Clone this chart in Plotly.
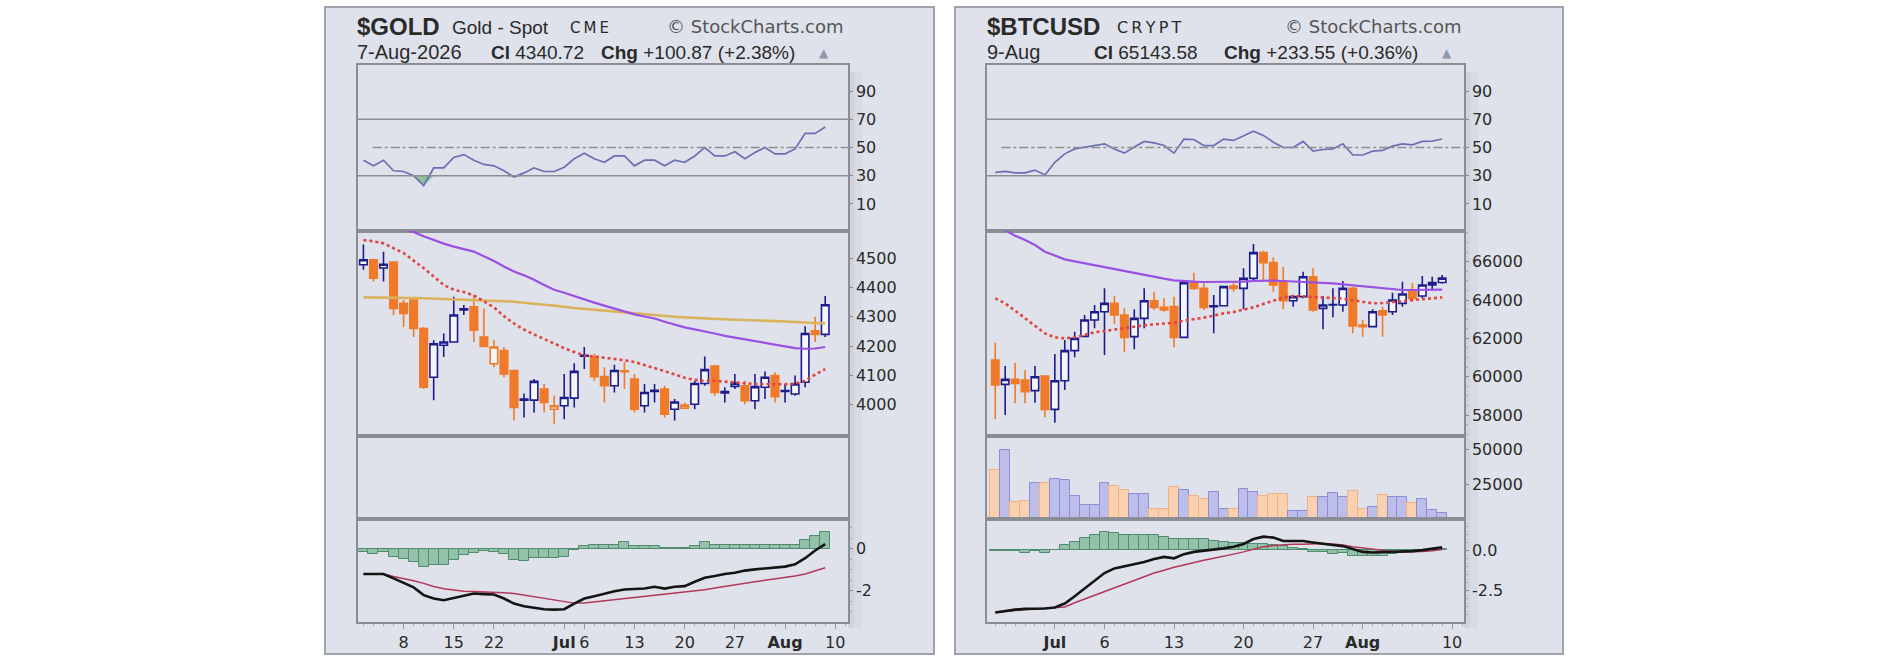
import pandas as pd
import plotly.graph_objects as go

W, H = 1886, 662


def px(x):
    return x / W


def py(y):
    return 1 - y / H


# ---------------- fechas / etiquetas ----------------
gold_holidays = ["2026-06-19", "2026-07-03"]
gold_days = [d for d in pd.bdate_range("2026-06-02", "2026-08-10")
             if d.strftime("%Y-%m-%d") not in gold_holidays]
btc_days = list(pd.date_range("2026-06-25", "2026-08-10"))

gold_tick_dates = ["2026-06-08", "2026-06-15", "2026-06-22", "2026-07-01", "2026-07-06",
                   "2026-07-13", "2026-07-20", "2026-07-27", "2026-08-03", "2026-08-10"]
gold_tick_text = ["8", "15", "22", "<b>Jul</b>", "6", "13", "20", "27", "<b>Aug</b>", "10"]
btc_tick_dates = ["2026-07-01", "2026-07-06", "2026-07-13", "2026-07-20",
                  "2026-07-27", "2026-08-01", "2026-08-10"]
btc_tick_text = ["<b>Jul</b>", "6", "13", "20", "27", "<b>Aug</b>", "10"]

# ---------------- $GOLD ----------------
gold_open = [4477, 4494, 4466, 4486, 4346, 4357, 4260, 4094, 4203, 4214,
             4323, 4334, 4231, 4140, 4185, 4117, 4016, 4016, 4054, 3985,
             3997, 4023, 4166, 4163, 4096, 4065, 4116, 4088, 3997, 4046,
             4054, 3985, 3989, 4002, 4073, 4132, 4041, 4063, 4065, 4014,
             4060, 4100, 4046, 4037, 4077, 4252, 4240]
gold_high = [4546, 4497, 4521, 4489, 4357, 4359, 4265, 4220, 4243, 4368,
             4340, 4374, 4328, 4220, 4197, 4117, 4039, 4088, 4071, 4031,
             4105, 4142, 4197, 4174, 4128, 4137, 4145, 4105, 4071, 4071,
             4065, 4020, 4008, 4082, 4165, 4137, 4060, 4105, 4082, 4105,
             4114, 4111, 4071, 4100, 4268, 4300, 4371]
gold_low = [4460, 4420, 4420, 4305, 4265, 4231, 4054, 4016, 4163, 4214,
            4306, 4214, 4197, 4128, 4094, 3947, 3957, 3974, 3974, 3936,
            3951, 3991, 4122, 4082, 4008, 4042, 4054, 3974, 3974, 4008,
            3957, 3947, 3985, 3985, 4065, 4031, 4008, 4054, 4002, 3985,
            4020, 4008, 4008, 4031, 4060, 4214, 4231]
gold_close = [4494, 4431, 4479, 4328, 4311, 4260, 4060, 4208, 4214, 4306,
              4327, 4254, 4199, 4197, 4105, 3991, 4020, 4080, 4008, 3997,
              4025, 4114, 4169, 4096, 4065, 4117, 4113, 3985, 4042, 4050,
              3968, 4010, 3999, 4073, 4120, 4042, 4045, 4074, 4014, 4062,
              4094, 4028, 4049, 4071, 4243, 4239.85, 4340.72]
gold_ema20 = [4561, 4557, 4550, 4534, 4517, 4491, 4466, 4437, 4408, 4392,
              4384, 4373, 4351, 4332, 4302, 4277, 4256, 4239, 4224, 4209,
              4193, 4180, 4168, 4165, 4161, 4157, 4152, 4146, 4136, 4126,
              4116, 4104, 4092, 4085, 4082, 4082, 4079, 4076, 4072, 4071,
              4071, 4070, 4070, 4072, 4082, 4103, 4122]
gold_sma50 = [4650, 4635, 4620, 4606, 4597, 4589, 4574, 4561, 4549, 4539,
              4531, 4522, 4506, 4490, 4471, 4454, 4441, 4426, 4408, 4392,
              4382, 4370, 4358, 4348, 4338, 4328, 4318, 4308, 4301, 4294,
              4283, 4273, 4264, 4257, 4251, 4243, 4235, 4229, 4223, 4217,
              4213, 4206, 4199, 4193, 4191, 4192, 4197]
gold_sma200 = [4366, 4366, 4365, 4365, 4364, 4364, 4363, 4362, 4360, 4360,
               4359, 4358, 4356, 4355, 4353, 4351, 4347, 4344, 4341, 4338,
               4333, 4330, 4327, 4324, 4321, 4318, 4315, 4311, 4307, 4304,
               4302, 4300, 4298, 4296, 4294, 4292, 4291, 4290, 4289, 4287,
               4286, 4285, 4284, 4282, 4280, 4278, 4277]
gold_rsi = [41, 37, 41, 33.5, 33, 30, 23, 35.5, 35.5, 43,
            45, 41, 38, 37, 33.5, 29, 32, 35.5, 33, 33,
            36, 42, 46, 42, 39.5, 44, 44, 37, 41, 41,
            37, 41, 39.5, 44, 50, 44, 44, 47, 42, 46.5,
            50, 45.5, 45.5, 49, 60, 60, 64.5]
gold_macd = [-1.20, -1.20, -1.20, -1.41, -1.62, -1.84, -2.21, -2.37, -2.45, -2.34,
             -2.21, -2.13, -2.16, -2.18, -2.37, -2.61, -2.74, -2.80, -2.88, -2.90,
             -2.88, -2.61, -2.37, -2.26, -2.13, -2.02, -1.94, -1.92, -1.89, -1.81,
             -1.90, -1.81, -1.78, -1.57, -1.38, -1.30, -1.20, -1.14, -1.04, -0.98,
             -0.93, -0.90, -0.85, -0.74, -0.45, -0.08, 0.22]
gold_signal = [-1.20, -1.20, -1.20, -1.32, -1.41, -1.52, -1.65, -1.80, -1.90, -1.96,
               -2.02, -2.04, -2.05, -2.06, -2.09, -2.13, -2.21, -2.29, -2.37, -2.45,
               -2.53, -2.59, -2.58, -2.53, -2.48, -2.42, -2.37, -2.32, -2.26, -2.21,
               -2.16, -2.13, -2.08, -2.03, -1.95, -1.87, -1.79, -1.70, -1.62, -1.57,
               -1.50, -1.44, -1.38, -1.30, -1.20, -1.06, -0.90]
gold_hist = [-0.13, -0.24, -0.13, -0.37, -0.50, -0.61, -0.85, -0.77, -0.77, -0.53,
             -0.29, -0.18, -0.10, -0.13, -0.24, -0.53, -0.58, -0.45, -0.45, -0.45,
             -0.37, -0.08, 0.14, 0.19, 0.19, 0.19, 0.30, 0.14, 0.14, 0.11,
             0.03, 0.03, 0.03, 0.11, 0.30, 0.19, 0.19, 0.19, 0.19, 0.19,
             0.19, 0.19, 0.19, 0.19, 0.43, 0.59, 0.78]

# ---------------- $BTCUSD ----------------
btc_open = [60870, 59600, 59861, 59826, 59270, 60035, 58296, 59791, 61357, 62100,
            62957, 63391, 63826, 63217, 62087, 63043, 63965, 63617, 63652, 62052,
            64904, 64609, 63652, 63700, 64730, 64609, 65130, 66470, 65948, 64957,
            63965, 64174, 65217, 63565, 63739, 63739, 64609, 62696, 62609, 63443,
            63391, 63826, 64435, 64209, 64783, 64910]
btc_high = [61774, 60557, 60731, 60348, 60557, 60035, 61183, 61913, 62348, 63217,
            63739, 64609, 64209, 63565, 63513, 64609, 64435, 64087, 64174, 65043,
            65426, 64870, 64261, 64696, 64870, 65652, 66922, 66574, 66226, 65739,
            64261, 65478, 65652, 64209, 64609, 64991, 64696, 62957, 63513, 63652,
            64383, 64957, 64904, 65252, 65217, 65300]
btc_low = [57774, 58000, 58609, 58609, 58644, 57878, 57600, 59304, 61009, 62087,
           62522, 61130, 62748, 61304, 61426, 62522, 63478, 63391, 61531, 62052,
           64522, 63478, 62261, 63687, 64435, 63513, 65043, 65043, 64435, 63513,
           63652, 64087, 63391, 62470, 63096, 63391, 62261, 62087, 62609, 62087,
           63217, 63652, 64000, 64087, 64522, 64850]
btc_close = [59565, 59861, 59652, 59217, 60000, 58296, 59791, 61357, 62000, 62957,
             63391, 63826, 63217, 62052, 63043, 63965, 63617, 63478, 62052, 64904,
             64609, 63617, 63700, 64696, 64609, 65130, 66470, 65948, 64783, 63965,
             64174, 65217, 63478, 63739, 63760, 64609, 62644, 62609, 63391, 63217,
             64000, 64313, 64087, 64783, 64910, 65143.58]
btc_ema20 = [64087, 63826, 63443, 63043, 62644, 62261, 62052, 62000, 62052, 62191,
             62313, 62383, 62470, 62557, 62609, 62678, 62730, 62783, 62817, 62922,
             62991, 63078, 63183, 63304, 63374, 63478, 63617, 63791, 63965, 64139,
             64209, 64191, 64139, 64122, 64104, 64070, 64000, 63896, 63826, 63843,
             63896, 63948, 64000, 64052, 64087, 64139]
btc_sma50 = [67913, 67617, 67357, 67130, 66870, 66522, 66313, 66122, 66017, 65913,
             65809, 65704, 65600, 65496, 65391, 65287, 65200, 65113, 65026, 64974,
             64957, 64939, 64939, 64939, 64939, 64957, 64991, 65009, 65009, 64991,
             64974, 64957, 64922, 64904, 64870, 64817, 64765, 64696, 64643, 64591,
             64539, 64522, 64522, 64522, 64522, 64539]
btc_volume = [34900, 49300, 12000, 13200, 26000, 26000, 28900, 27700, 16100, 10300,
              10300, 26000, 23300, 20400, 17600, 17600, 7200, 7200, 22800, 20400,
              16100, 14400, 19000, 7200, 7200, 21600, 19000, 16100, 17600, 17600,
              6000, 6000, 15900, 15500, 18800, 15900, 20200, 7100, 8800, 17400,
              15900, 15900, 11700, 14300, 6400, 4500]
btc_rsi = [32.3, 33, 32, 32, 34, 30.5, 39.5, 45.5, 49, 50.3,
           51.4, 52.6, 49, 46, 50.3, 54.3, 53.3, 51.4, 46, 56,
           55.7, 51.4, 51.4, 56, 55, 58, 61.5, 58.6, 53.8, 50,
           50, 54.3, 47.4, 48.6, 49, 52.6, 44.7, 44.7, 47.4, 47.9,
           51, 52.6, 51.9, 54.3, 54.5, 56]
btc_macd = [-3.89, -3.79, -3.71, -3.66, -3.66, -3.64, -3.58, -3.33, -2.88, -2.40,
            -1.89, -1.43, -1.14, -1.01, -0.91, -0.74, -0.55, -0.42, -0.51, -0.25,
            -0.11, -0.04, 0.00, 0.11, 0.21, 0.38, 0.69, 0.84, 0.78, 0.57,
            0.57, 0.57, 0.48, 0.42, 0.32, 0.25, 0.06, -0.11, -0.15, -0.13,
            -0.11, -0.08, -0.06, 0.00, 0.08, 0.17]
btc_signal = [-3.87, -3.81, -3.75, -3.71, -3.66, -3.62, -3.58, -3.54, -3.28, -3.05,
              -2.82, -2.55, -2.32, -2.11, -1.87, -1.68, -1.43, -1.26, -1.07, -0.93,
              -0.76, -0.63, -0.51, -0.40, -0.25, -0.11, 0.06, 0.21, 0.29, 0.34,
              0.36, 0.36, 0.38, 0.42, 0.38, 0.32, 0.21, 0.13, 0.06, -0.02,
              -0.08, -0.11, -0.11, -0.08, -0.04, 0.04]
btc_hist = [-0.06, -0.06, -0.06, -0.17, -0.06, -0.17, 0.00, 0.29, 0.50, 0.78,
            0.93, 1.14, 1.05, 0.93, 0.93, 0.93, 0.93, 0.84, 0.67, 0.67,
            0.67, 0.67, 0.57, 0.50, 0.46, 0.46, 0.36, 0.36, 0.29, 0.25,
            0.15, 0.10, -0.13, -0.13, -0.27, -0.17, -0.38, -0.38, -0.38, -0.38,
            -0.27, -0.17, -0.08, -0.04, 0.00, 0.08]

# ---------------- estilos ----------------
BLUE = "#1c1c8c"
ORANGE = "#f07a2a"
PLOT_BG = "#f5f6fa"
FRAME_BG = "#dfe2ea"
BORDER = "#8a8d94"
TXT = "#2a2a2a"

# panes (pixeles desde arriba)
panes = {"rsi": (65, 231), "price": (231, 436), "vol": (436, 519), "macd": (519, 622)}
pane_order = ["rsi", "price", "vol", "macd"]


def ref(letter, n):
    return letter if n == 1 else f"{letter}{n}"


fig = go.Figure()


def add_chart(first, x0, x1, xrange, days, tick_dates, tick_text, o, h, l, c,
              rsi, ema, sma50, sma200, macd, signal, hist, vol, yspecs):
    xs = list(range(len(c)))
    n_rsi, n_price, n_vol, n_macd = first, first + 1, first + 2, first + 3

    # ejes
    for k, pane in enumerate(pane_order):
        n = first + k
        top, bot = panes[pane]
        bottom = pane == "macd"
        xa = dict(domain=[px(x0), px(x1)], anchor=ref("y", n), range=xrange,
                  showgrid=False, zeroline=False, showline=True, mirror=True,
                  linecolor=BORDER, linewidth=1.5, fixedrange=True,
                  rangeslider=dict(visible=False))
        if bottom:
            xa.update(tickmode="array",
                      tickvals=[days.index(pd.Timestamp(d)) for d in tick_dates],
                      ticktext=tick_text, ticks="outside", ticklen=5, tickcolor="#999",
                      tickfont=dict(family="DejaVu Sans", size=16, color=TXT),
                      minor=dict(tickmode="linear", tick0=0, dtick=1, ticks="outside",
                                 ticklen=2, tickcolor="#aaa"))
        else:
            xa.update(showticklabels=False, ticks="")
        yr, tv, tt, minor = yspecs[pane]
        ya = dict(domain=[py(bot), py(top)], anchor=ref("x", n), side="right",
                  range=yr, showgrid=False, zeroline=False, showline=True, mirror=True,
                  linecolor=BORDER, linewidth=1.5, fixedrange=True,
                  tickfont=dict(family="DejaVu Sans", size=16, color=TXT))
        if tv:
            ya.update(tickmode="array", tickvals=tv, ticktext=tt, ticks="outside",
                      ticklen=3, tickcolor="#888")
        else:
            ya.update(showticklabels=False, ticks="")
        if minor:
            ya["minor"] = dict(tickmode="linear", dtick=minor, ticks="outside",
                               ticklen=2, tickcolor="#aaa")
        fig.layout["xaxis" if n == 1 else f"xaxis{n}"] = xa
        fig.layout["yaxis" if n == 1 else f"yaxis{n}"] = ya

    # RSI
    xr, yr = ref("x", n_rsi), ref("y", n_rsi)
    for lvl in (70, 30):
        fig.add_shape(type="line", xref=f"{xr} domain", yref=yr, x0=0, x1=1, y0=lvl, y1=lvl,
                      line=dict(color=BORDER, width=1.5))
    fig.add_shape(type="line", xref=f"{xr} domain", yref=yr, x0=0.03, x1=1, y0=50, y1=50,
                  line=dict(color="#8e8e8e", width=1.3, dash="dashdot"))
    fig.add_trace(go.Scatter(x=xs, y=[30] * len(xs), mode="lines", line=dict(width=0),
                             xaxis=xr, yaxis=yr, hoverinfo="skip"))
    fig.add_trace(go.Scatter(x=xs, y=[min(v, 30) for v in rsi], mode="lines",
                             line=dict(width=0), fill="tonexty", fillcolor="#8fbf9c",
                             xaxis=xr, yaxis=yr, hoverinfo="skip"))
    fig.add_trace(go.Scatter(x=xs, y=rsi, mode="lines", line=dict(color="#6b70b3", width=1.7),
                             xaxis=xr, yaxis=yr))

    # velas: azul si sube respecto al cierre anterior, naranja si baja
    prev = [o[0]] + c[:-1]
    up = [ci >= p for ci, p in zip(c, prev)]
    xr, yr = ref("x", n_price), ref("y", n_price)
    for flag, col in ((True, BLUE), (False, ORANGE)):
        idx = [i for i in xs if up[i] == flag]
        fig.add_trace(go.Candlestick(
            x=idx, open=[o[i] for i in idx], high=[h[i] for i in idx],
            low=[l[i] for i in idx], close=[c[i] for i in idx],
            increasing=dict(line=dict(color=col, width=1.6), fillcolor=PLOT_BG),
            decreasing=dict(line=dict(color=col, width=1.6), fillcolor=col),
            whiskerwidth=0, xaxis=xr, yaxis=yr))
    if sma200 is not None:
        fig.add_trace(go.Scatter(x=xs, y=sma200, mode="lines",
                                 line=dict(color="#dab35e", width=2.6), xaxis=xr, yaxis=yr))
    fig.add_trace(go.Scatter(x=xs, y=sma50, mode="lines",
                             line=dict(color="#9b50e4", width=2.2), xaxis=xr, yaxis=yr))
    fig.add_trace(go.Scatter(x=xs, y=ema, mode="lines",
                             line=dict(color="#e0443e", width=2.6, dash="dot"),
                             xaxis=xr, yaxis=yr))

    # volumen (el oro no tiene; el panel queda vacio)
    xr, yr = ref("x", n_vol), ref("y", n_vol)
    if vol is not None:
        fig.add_trace(go.Bar(
            x=xs, y=vol, width=1,
            marker=dict(color=["#bdbde9" if u else "#f9d1b0" for u in up],
                        line=dict(color=["#8d8ed8" if u else "#f2b184" for u in up], width=1)),
            xaxis=xr, yaxis=yr))
    else:
        fig.add_trace(go.Scatter(x=[0], y=[-1], mode="markers", marker=dict(opacity=0),
                                 xaxis=xr, yaxis=yr, hoverinfo="skip"))

    # MACD
    xr, yr = ref("x", n_macd), ref("y", n_macd)
    fig.add_trace(go.Bar(x=xs, y=hist, width=1,
                         marker=dict(color="#93c1a9", line=dict(color="#4f8b6d", width=1)),
                         xaxis=xr, yaxis=yr))
    fig.add_trace(go.Scatter(x=xs, y=signal, mode="lines",
                             line=dict(color="#b1385a", width=1.5), xaxis=xr, yaxis=yr))
    fig.add_trace(go.Scatter(x=xs, y=macd, mode="lines",
                             line=dict(color="#141414", width=2.6), xaxis=xr, yaxis=yr))


rsi_spec = ([-9.2, 108.5], [10, 30, 50, 70, 90], ["10", "30", "50", "70", "90"], None)

add_chart(1, 358, 848, [-0.54, 48.27], gold_days, gold_tick_dates, gold_tick_text,
          gold_open, gold_high, gold_low, gold_close, gold_rsi,
          gold_ema20, gold_sma50, gold_sma200, gold_macd, gold_signal, gold_hist, None,
          {"rsi": rsi_spec,
           "price": ([3894, 4592], [4000, 4100, 4200, 4300, 4400, 4500],
                     ["4000", "4100", "4200", "4300", "4400", "4500"], None),
           "vol": ([0, 1], None, None, None),
           "macd": ([-3.49, 1.42], [-2, 0], ["-2", "0"], 0.5)})

add_chart(5, 987, 1464, [-0.83, 47.2], btc_days, btc_tick_dates, btc_tick_text,
          btc_open, btc_high, btc_low, btc_close, btc_rsi,
          btc_ema20, btc_sma50, None, btc_macd, btc_signal, btc_hist, btc_volume,
          {"rsi": rsi_spec,
           "price": ([56905, 67600], [58000, 60000, 62000, 64000, 66000],
                     ["58000", "60000", "62000", "64000", "66000"], 500),
           "vol": ([0, 59300], [25000, 50000], ["25000", "50000"], None),
           "macd": ([-4.48, 1.94], [-2.5, 0], ["-2.5", "0.0"], 0.5)})

# ---------------- marcos ----------------
for fx0, fx1, plot_x1 in ((325, 934, 848), (955, 1563, 1464)):
    fig.add_shape(type="rect", xref="paper", yref="paper", layer="below",
                  x0=px(fx0), x1=px(fx1), y0=py(654), y1=py(7),
                  fillcolor=FRAME_BG, line=dict(color="#9da2ad", width=2))
    fig.add_shape(type="rect", xref="paper", yref="paper", layer="below",
                  x0=px(plot_x1), x1=px(plot_x1 + 6), y0=py(628), y1=py(72),
                  fillcolor="rgba(110,115,135,0.13)", line=dict(width=0))
    fig.add_shape(type="rect", xref="paper", yref="paper", layer="below",
                  x0=px(plot_x1 + 6), x1=px(plot_x1 + 14), y0=py(628), y1=py(72),
                  fillcolor="rgba(110,115,135,0.06)", line=dict(width=0))


# ---------------- textos ----------------
def text(x, y, s, size, family="Liberation Sans", color=TXT, anchor="left"):
    fig.add_annotation(x=px(x), y=py(y), xref="paper", yref="paper", text=s,
                       showarrow=False, xanchor=anchor, yanchor="middle",
                       font=dict(family=family, size=size, color=color))


TS = "\u2009"  # espacio fino para imitar el espaciado de letras

text(355, 26, "<b>$GOLD</b>", 24)
text(450, 27, "Gold - Spot", 19)
text(568, 28, TS.join("CME"), 15, "DejaVu Sans")
text(846, 26, "© StockCharts.com", 18, "DejaVu Sans", "#555", "right")
text(355, 52, "7-Aug-2026", 20)
text(489, 52, "<b>Cl</b> 4340.72", 19)
text(599, 52, "<b>Chg</b> +100.87 (+2.38%)", 19)
text(824, 53, "▲", 12, "DejaVu Sans", "#8c99ad", "center")

text(985, 26, "<b>$BTCUSD</b>", 24)
text(1115, 28, TS.join("CRYPT"), 16, "DejaVu Sans")
text(1464, 26, "© StockCharts.com", 18, "DejaVu Sans", "#555", "right")
text(985, 52, "9-Aug", 20)
text(1092, 52, "<b>Cl</b> 65143.58", 19)
text(1222, 52, "<b>Chg</b> +233.55 (+0.36%)", 19)
text(1447, 53, "▲", 12, "DejaVu Sans", "#8c99ad", "center")

fig.update_layout(
    width=W, height=H, autosize=False,
    margin=dict(l=0, r=0, t=0, b=0),
    paper_bgcolor="white", plot_bgcolor=PLOT_BG,
    showlegend=False, bargap=0, boxgap=0.25, boxgroupgap=0,
    font=dict(family="DejaVu Sans", color=TXT),
)

fig.write_html("out.html", config={"displayModeBar": False},
               post_script="document.body.style.margin='0';")
